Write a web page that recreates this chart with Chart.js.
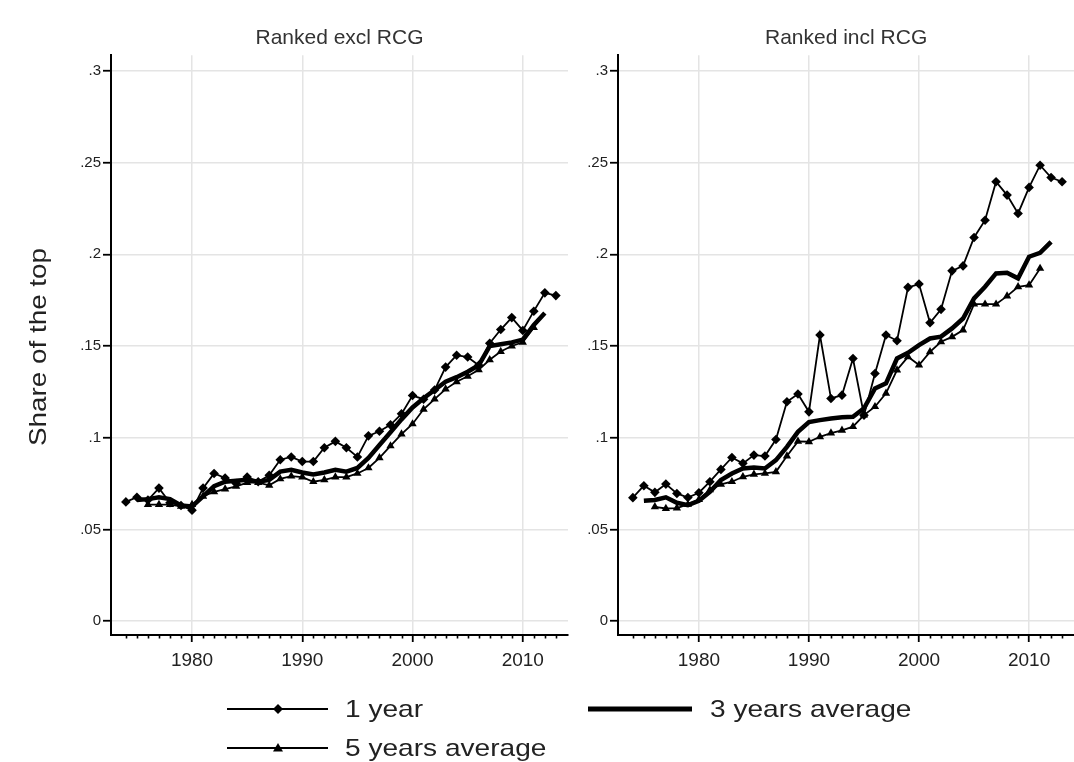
<!DOCTYPE html>
<html>
<head>
<meta charset="utf-8">
<script src="https://cdn.jsdelivr.net/npm/chart.js@4.4.1/dist/chart.umd.min.js"></script>
<style>
  html, body { margin: 0; padding: 0; background: #fff; }
  #wrap { position: relative; width: 1074px; height: 762px; overflow: hidden; font-family: "Liberation Sans", Arial, sans-serif; color: #222; }
  canvas { position: absolute; top: 0; }
  #cLeft { left: 0; }
  #cRight { left: 507px; }
  .ylab { position: absolute; left: 38px; top: 347px; font-size: 24px; white-space: nowrap; line-height: 1;
          transform: translate(-50%, -50%) rotate(-90deg) scaleX(1.16); }
  .legtxt { position: absolute; font-size: 24px; line-height: 24px; white-space: nowrap; transform-origin: 0 0; transform: scaleX(1.17); }
  svg.leg { position: absolute; left: 0; top: 0; }
</style>
</head>
<body>
<div id="wrap">
  <canvas id="cLeft" width="575" height="700"></canvas>
  <canvas id="cRight" width="572" height="700"></canvas>
  <div class="ylab">Share of the top</div>
  <svg class="leg" width="1074" height="762">
    <line x1="227" y1="709" x2="328" y2="709" stroke="#000" stroke-width="1.8"/>
    <polygon points="278,704 283,709 278,714 273,709" fill="#000"/>
    <line x1="227" y1="748" x2="328" y2="748" stroke="#000" stroke-width="1.8"/>
    <polygon points="278,743 283,751.5 273,751.5" fill="#000"/>
    <line x1="588" y1="709" x2="692" y2="709" stroke="#000" stroke-width="5"/>
  </svg>
  <div class="legtxt" style="left:345px; top:697px;">1 year</div>
  <div class="legtxt" style="left:345px; top:736px;">5 years average</div>
  <div class="legtxt" style="left:710px; top:697px;">3 years average</div>
</div>
<script>
// ---- data ----
const years = [1974,1975,1976,1977,1978,1979,1980,1981,1982,1983,1984,1985,1986,1987,1988,1989,1990,1991,1992,1993,
               1994,1995,1996,1997,1998,1999,2000,2001,2002,2003,2004,2005,2006,2007,2008,2009,2010,2011,2012,2013];

const exclOneYear = [0.065,0.0675,0.066,0.0725,0.0645,0.063,0.0605,0.0725,0.0805,0.078,0.075,0.0785,0.076,0.0795,0.088,0.0895,0.087,0.087,0.0945,0.098,
                     0.0945,0.0895,0.101,0.1035,0.107,0.113,0.123,0.121,0.126,0.1385,0.145,0.144,0.1395,0.1515,0.159,0.1655,0.1585,0.169,0.179,0.1775];
const exclThreeYr = [null,0.066,0.0665,0.0675,0.0665,0.063,0.0625,0.068,0.0735,0.076,0.0765,0.077,0.076,0.077,0.0815,0.0825,0.081,0.080,0.081,0.0825,
                     0.0815,0.0835,0.089,0.096,0.103,0.110,0.1165,0.1215,0.126,0.1305,0.133,0.136,0.1395,0.150,0.151,0.152,0.1535,0.1615,0.168,null];
const exclFiveYr  = [null,null,0.0635,0.0635,0.0635,0.0625,0.0635,0.068,0.0705,0.072,0.0735,0.0755,0.0755,0.074,0.0775,0.079,0.0785,0.076,0.077,0.0785,
                     0.0785,0.0805,0.0835,0.089,0.0955,0.102,0.1075,0.1155,0.121,0.1265,0.1305,0.1335,0.137,0.1425,0.147,0.150,0.152,0.160,null,null];

const inclOneYear = [0.0673,0.0738,0.0702,0.0747,0.0696,0.0674,0.070,0.076,0.0827,0.0892,0.086,0.0905,0.090,0.099,0.1196,0.1238,0.1141,0.156,0.1214,0.1232,
                     0.1432,0.1123,0.135,0.156,0.1529,0.182,0.1838,0.1627,0.170,0.191,0.1937,0.2092,0.2186,0.2396,0.2323,0.2223,0.2365,0.2486,0.2419,0.2396];
const inclThreeYr = [null,0.0656,0.066,0.0675,0.0645,0.0632,0.0656,0.0705,0.0769,0.0805,0.0832,0.0838,0.0832,0.0878,0.095,0.1032,0.1085,0.1096,0.1105,0.1112,
                     0.1114,0.116,0.1269,0.1296,0.1432,0.1463,0.1505,0.1541,0.1551,0.1596,0.165,0.176,0.1823,0.1896,0.190,0.1869,0.1987,0.2008,0.2068,null];
const inclFiveYr  = [null,null,0.0623,0.0614,0.0616,0.0636,0.0663,0.0715,0.0745,0.076,0.0787,0.080,0.0805,0.0814,0.090,0.098,0.0978,0.1005,0.1025,0.104,
                     0.106,0.1123,0.1169,0.1242,0.1369,0.1441,0.1396,0.1468,0.1523,0.155,0.1587,0.1728,0.1728,0.1728,0.1772,0.1823,0.1832,0.1923,null,null];

const panelTitles = ['Ranked excl RCG', 'Ranked incl RCG'];
const yTicks = [0, 0.05, 0.1, 0.15, 0.2, 0.25, 0.3];
const yTickLabels = ['0', '.05', '.1', '.15', '.2', '.25', '.3'];
const xMajor = [1980, 1990, 2000, 2010];
const xMinor = [1974,1975,1976,1977,1978,1979,1981,1982,1983,1984,1985,1986,1987,1988,1989,1991,1992,1993,1994,1995,1996,1997,1998,1999,
                2001,2002,2003,2004,2005,2006,2007,2008,2009,2011,2012,2013];

// ---- helpers ----
const pts = arr => years.map((y, i) => ({ x: y, y: arr[i] }));
const GRID = '#e4e4e4';
const TXT = '#222';

const minorTicks = {
  id: 'minorTicks',
  afterDraw(chart) {
    const xs = chart.scales.x, ctx = chart.ctx;
    ctx.save();
    ctx.strokeStyle = '#000';
    ctx.lineWidth = 1.6;
    xMinor.forEach(v => {
      const px = Math.round(xs.getPixelForValue(v)) + 0.5;
      ctx.beginPath();
      ctx.moveTo(px, xs.top);
      ctx.lineTo(px, xs.top + 3.5);
      ctx.stroke();
    });
    ctx.restore();
  }
};

function makePanel(canvasId, title, one, three, five, rightPad) {
  return new Chart(document.getElementById(canvasId), {
    type: 'line',
    data: {
      datasets: [
        { label: '1 year', data: pts(one), borderColor: '#000', backgroundColor: '#000', borderWidth: 1.8,
          pointStyle: 'rectRot', pointRadius: 4.8, pointBorderWidth: 0, pointBackgroundColor: '#000', tension: 0 },
        { label: '3 years average', data: pts(three), borderColor: '#000', backgroundColor: '#000', borderWidth: 4.5,
          pointRadius: 0, tension: 0 },
        { label: '5 years average', data: pts(five), borderColor: '#000', backgroundColor: '#000', borderWidth: 1.8,
          pointStyle: 'triangle', pointRadius: 4.8, pointBorderWidth: 0, pointBackgroundColor: '#000', tension: 0 }
      ]
    },
    options: {
      responsive: false,
      animation: false,
      devicePixelRatio: 1,
      layout: { padding: { left: 0, right: rightPad, top: 0, bottom: 0 } },
      plugins: {
        legend: { display: false },
        tooltip: { enabled: false },
        title: { display: true, text: title, fullSize: false, color: '#333',
                 font: { family: '"Liberation Sans", Arial, sans-serif', size: 21, weight: 'normal' },
                 padding: { top: 26, bottom: 4 } }
      },
      scales: {
        x: {
          type: 'linear', min: 1972.65, max: 2014.1,
          afterBuildTicks: s => { s.ticks = xMajor.map(v => ({ value: v })); },
          afterFit: s => { s.height = 65; },
          ticks: { autoSkip: false, maxRotation: 0, padding: 7, color: TXT,
                   font: { family: '"Liberation Sans", Arial, sans-serif', size: 19 },
                   callback: v => String(v) },
          grid: { color: GRID, lineWidth: 1.5, drawTicks: true, tickLength: 7, tickColor: '#000', tickWidth: 1.8 },
          border: { display: true, color: '#000', width: 2 }
        },
        y: {
          type: 'linear', min: -0.0076, max: 0.3086,
          afterBuildTicks: s => { s.ticks = yTicks.map(v => ({ value: v })); },
          afterFit: s => { s.width = 111; },
          ticks: { autoSkip: false, padding: 2, color: TXT,
                   font: { family: '"Liberation Sans", Arial, sans-serif', size: 15 },
                   callback: (v) => yTickLabels[yTicks.indexOf(v)] },
          grid: { color: GRID, lineWidth: 1.5, drawTicks: true, tickLength: 8, tickColor: '#000', tickWidth: 1.8 },
          border: { display: true, color: '#000', width: 2 }
        }
      }
    },
    plugins: [minorTicks]
  });
}

makePanel('cLeft', panelTitles[0], exclOneYear, exclThreeYr, exclFiveYr, 7);
makePanel('cRight', panelTitles[1], inclOneYear, inclThreeYr, inclFiveYr, 0);
</script>
</body>
</html>
